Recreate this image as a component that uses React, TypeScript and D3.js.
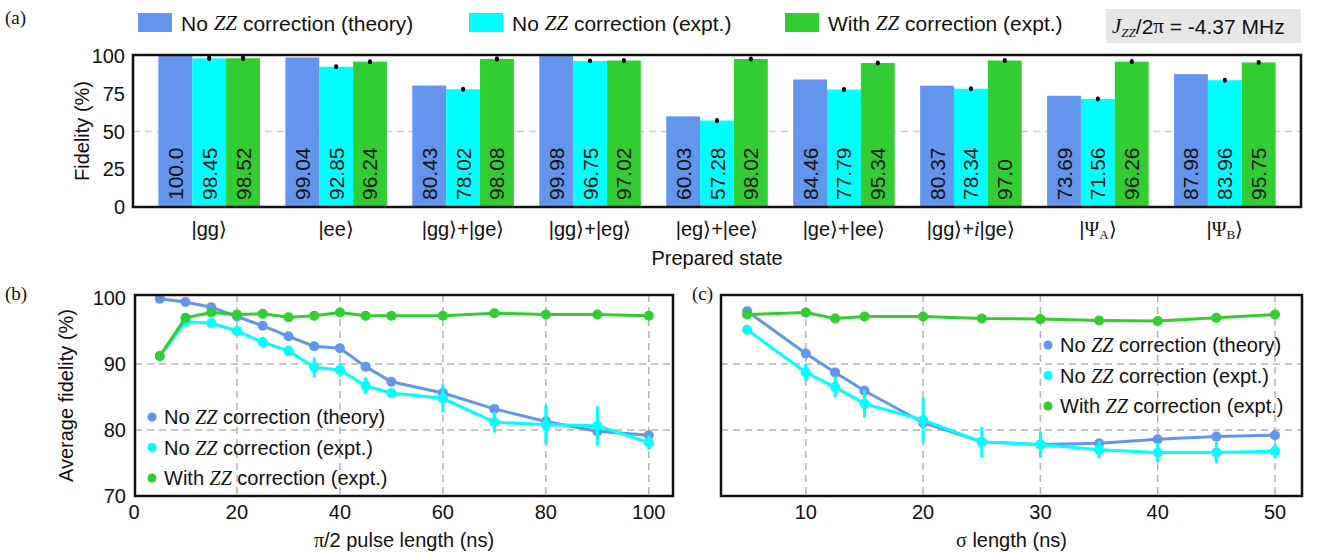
import * as d3 from "d3";

const states = ["gg", "ee", "gg+ge", "gg+eg", "eg+ee", "ge+ee", "gg+ige", "PsiA", "PsiB"];
const theoryLabels = ["100.0", "99.04", "80.43", "99.98", "60.03", "84.46", "80.37", "73.69", "87.98"];
const exptLabels = ["98.45", "92.85", "78.02", "96.75", "57.28", "77.79", "78.34", "71.56", "83.96"];
const corrLabels = ["98.52", "96.24", "98.08", "97.02", "98.02", "95.34", "97.0", "96.26", "95.75"];
const exptErrA = [0.5, 0.3, 0.3, 0.3, 0.3, 0.4, 0.3, 0.3, 0.3];
const corrErrA = [0.5, 0.3, 0.4, 0.3, 0.3, 0.3, 0.3, 0.4, 0.3];
const barTicks = [0, 25, 50, 75, 100];

// panel (b): pi/2 pulse length
const pulseLen = [5, 10, 15, 20, 25, 30, 35, 40, 45, 50, 60, 70, 80, 90, 100];
const pulseTheory = [99.9, 99.4, 98.6, 97.2, 95.8, 94.2, 92.7, 92.4, 89.6, 87.3, 85.6, 83.2, 81.3, 79.8, 79.2];
const pulseExpt = [91.2, 96.4, 96.2, 95.0, 93.3, 92.0, 89.5, 89.1, 86.7, 85.6, 84.8, 81.2, 80.8, 80.65, 78.1];
const pulseExptErr = [0, 0.3, 0.3, 0.4, 0.8, 0.8, 1.5, 1.0, 1.25, 0.3, 2.1, 1.6, 2.95, 2.95, 1.1];
const pulseCorr = [91.2, 97.0, 97.8, 97.5, 97.6, 97.1, 97.3, 97.8, 97.3, 97.3, 97.3, 97.7, 97.5, 97.5, 97.3];
const pulseTicks = [0, 20, 40, 60, 80, 100];

// panel (c): sigma length
const sigmaLen = [5, 10, 12.5, 15, 20, 25, 30, 35, 40, 45, 50];
const sigmaTheory = [98.0, 91.6, 88.7, 85.95, 81.1, 78.2, 77.8, 78.0, 78.6, 79.0, 79.2];
const sigmaExpt = [95.2, 88.7, 86.5, 84.0, 81.5, 78.2, 77.8, 77.0, 76.6, 76.6, 76.8];
const sigmaExptErr = [0.2, 1.26, 1.6, 2.1, 3.4, 2.3, 1.9, 1.3, 1.5, 1.6, 1.1];
const sigmaCorr = [97.5, 97.8, 96.9, 97.2, 97.2, 96.9, 96.8, 96.6, 96.5, 97.0, 97.5];
const sigmaCorrErr = [0, 0, 0.7, 0, 0, 0, 0, 0, 0, 0, 0];
const sigmaTicks = [10, 20, 30, 40, 50];
const fidTicks = [70, 80, 90, 100];

const BLUE = "#6495ED";
const CYAN = "#00FFFF";
const GREEN = "#32CD32";
const SANS = "'Liberation Sans', Arial, sans-serif";
const SERIF = "'Liberation Serif', 'Times New Roman', serif";
const GRID = "#b4b4b4";

const ZZ = () => (
  <tspan fontFamily={SERIF} fontStyle="italic">ZZ</tspan>
);

const Ket = ({ s }: { s: string }) => {
  if (s === "PsiA" || s === "PsiB")
    return (
      <>
        |<tspan fontFamily={SERIF}>Ψ</tspan>
        <tspan fontFamily={SERIF} fontSize={13} dy={5}>{s.slice(3)}</tspan>
        <tspan dy={-5}>⟩</tspan>
      </>
    );
  const parts = s.split("+");
  return (
    <>
      {parts.map((p, i) => (
        <tspan key={i}>
          {i > 0 ? "+" : ""}
          {p.startsWith("i") ? <tspan fontFamily={SERIF} fontStyle="italic">i</tspan> : null}
          {"|" + p.replace(/^i/, "") + "⟩"}
        </tspan>
      ))}
    </>
  );
};

const series = [
  { key: "theory", color: BLUE, label: "(theory)", pre: "No " },
  { key: "expt", color: CYAN, label: "(expt.)", pre: "No " },
  { key: "corr", color: GREEN, label: "(expt.)", pre: "With " },
];

function LinePanel(props: {
  xs: number[];
  x: d3.ScaleLinear<number, number>;
  y: d3.ScaleLinear<number, number>;
  data: number[][];
  errs: (number[] | null)[];
  xTicks: number[];
  frame: [number, number, number, number];
  showY: boolean;
  legendAt: [number, number];
  xTitle: React.ReactNode;
}) {
  const { xs, x, y, data, errs, xTicks, frame, showY, legendAt } = props;
  const [fl, ft, fr, fb] = frame;
  const colors = [BLUE, CYAN, GREEN];
  return (
    <g>
      {xTicks.filter((t) => t > 0).map((t) => (
        <line key={"gx" + t} x1={x(t)} x2={x(t)} y1={ft} y2={fb} stroke={GRID} strokeWidth={1.5} strokeDasharray="7,5" />
      ))}
      {[80, 90].map((t) => (
        <line key={"gy" + t} x1={fl} x2={fr} y1={y(t)} y2={y(t)} stroke={GRID} strokeWidth={1.5} strokeDasharray="7,5" />
      ))}
      {data.map((vals, si) => {
        const line = d3.line<number>().x((_, i) => x(xs[i])).y((v) => y(v));
        const e = errs[si];
        return (
          <g key={si}>
            <path d={line(vals) || ""} fill="none" stroke={colors[si]} strokeWidth={3} />
            {e && vals.map((v, i) =>
              e[i] > 0 ? (
                <line key={"e" + i} x1={x(xs[i])} x2={x(xs[i])} y1={y(v - e[i])} y2={y(v + e[i])} stroke={colors[si]} strokeWidth={3} />
              ) : null
            )}
            {vals.map((v, i) => (
              <circle key={i} cx={x(xs[i])} cy={y(v)} r={5} fill={colors[si]} />
            ))}
          </g>
        );
      })}
      <rect x={fl} y={ft} width={fr - fl} height={fb - ft} fill="none" stroke="#111" strokeWidth={2.5} />
      {showY && fidTicks.map((t) => (
        <text key={"ty" + t} x={fl - 9} y={y(t)} textAnchor="end" dominantBaseline="central" fontSize={20}>{t}</text>
      ))}
      {xTicks.map((t) => (
        <text key={"tx" + t} x={x(t)} y={fb + 23} textAnchor="middle" fontSize={20}>{t}</text>
      ))}
      <text x={(fl + fr) / 2} y={fb + 51} textAnchor="middle" fontSize={20}>{props.xTitle}</text>
      {series.map((s, i) => (
        <g key={s.key} transform={`translate(${legendAt[0]},${legendAt[1] + i * 30.5})`}>
          <circle cx={0} cy={0} r={4.5} fill={s.color} />
          <text x={12} y={0} dominantBaseline="central" fontSize={20}>
            {s.pre}<ZZ /> correction {s.label}
          </text>
        </g>
      ))}
    </g>
  );
}

export default function App() {
  // panel (a)
  const xA = d3.scaleBand<string>().domain(states).range([133, 1301]).paddingInner(0.2).paddingOuter(0.2);
  const xSub = d3.scaleBand<string>().domain(series.map((s) => s.key)).range([0, xA.bandwidth()]);
  const yA = d3.scaleLinear().domain([0, 100]).range([207, 56]);
  const barSets = [theoryLabels, exptLabels, corrLabels];
  const barErrs = [null, exptErrA, corrErrA];

  // panels (b), (c)
  const yB = d3.scaleLinear().domain([70, 100]).range([496, 298]);
  const xB = d3.scaleLinear().domain([0, 104.7]).range([134, 673]);
  const xC = d3.scaleLinear().domain([2.77, 52.3]).range([721, 1302]);

  return (
    <svg width={1317} height={555} style={{ position: "absolute", left: 0, top: 0, background: "#fff" }} fontFamily={SANS} fill="#111">
      {/* panel labels */}
      <text x={5} y={24} fontFamily={SERIF} fontSize={19}>(a)</text>
      <text x={5} y={300} fontFamily={SERIF} fontSize={19}>(b)</text>
      <text x={692} y={300} fontFamily={SERIF} fontSize={19}>(c)</text>

      {/* legend (a) */}
      {series.map((s, i) => {
        const lx = [138, 469, 785][i];
        return (
          <g key={s.key}>
            <rect x={lx} y={13} width={34} height={19} fill={s.color} />
            <text x={lx + 43} y={23} dominantBaseline="central" fontSize={21}>
              {s.pre}<ZZ /> correction {s.label}
            </text>
          </g>
        );
      })}
      <rect x={1106} y={9} width={195} height={34} fill="#e6e6e6" />
      <text x={1112} y={26} dominantBaseline="central" fontSize={21}>
        <tspan fontFamily={SERIF} fontStyle="italic">J</tspan>
        <tspan fontFamily={SERIF} fontStyle="italic" fontSize={13} dy={6}>ZZ</tspan>
        <tspan dy={-6}>/2</tspan>
        <tspan fontFamily={SERIF}>π</tspan> = -4.37 MHz
      </text>

      {/* panel (a) bars */}
      <line x1={133} x2={1301} y1={yA(50)} y2={yA(50)} stroke="#cfcfcf" strokeWidth={1.5} strokeDasharray="7,5" />
      {states.map((st, gi) => (
        <g key={st} transform={`translate(${xA(st)},0)`}>
          {series.map((s, si) => {
            const v = +barSets[si][gi];
            const bx = xSub(s.key) || 0;
            const bw = xSub.bandwidth();
            const e = barErrs[si];
            return (
              <g key={s.key}>
                <rect x={bx} y={yA(v)} width={bw} height={yA(0) - yA(v)} fill={s.color} />
                {e && (
                  <line x1={bx + bw / 2} x2={bx + bw / 2} y1={yA(v - e[gi]) } y2={yA(v + e[gi])} stroke="#000" strokeWidth={4} strokeLinecap="round" />
                )}
                <text transform={`translate(${bx + bw / 2},${yA(0) - 7}) rotate(-90)`} dominantBaseline="central" fontSize={21}>
                  {barSets[si][gi]}
                </text>
              </g>
            );
          })}
        </g>
      ))}
      <rect x={133} y={55} width={1301 - 133} height={207 - 55} fill="none" stroke="#111" strokeWidth={2.5} />
      {barTicks.map((t) => (
        <text key={t} x={125} y={yA(t)} textAnchor="end" dominantBaseline="central" fontSize={20}>{t}</text>
      ))}
      <text transform={`translate(82,${(55 + 207) / 2}) rotate(-90)`} textAnchor="middle" dominantBaseline="central" fontSize={20}>Fidelity (%)</text>
      {states.map((st) => (
        <text key={st} x={(xA(st) || 0) + xA.bandwidth() / 2} y={229} textAnchor="middle" dominantBaseline="central" fontSize={20}>
          <Ket s={st} />
        </text>
      ))}
      <text x={717} y={258} textAnchor="middle" dominantBaseline="central" fontSize={20}>Prepared state</text>

      {/* panel (b) */}
      <text transform={`translate(66,${(295 + 496) / 2}) rotate(-90)`} textAnchor="middle" dominantBaseline="central" fontSize={20}>Average fidelity (%)</text>
      <LinePanel
        xs={pulseLen}
        x={xB}
        y={yB}
        data={[pulseTheory, pulseExpt, pulseCorr]}
        errs={[null, pulseExptErr, null]}
        xTicks={pulseTicks}
        frame={[135, 295, 673, 496]}
        showY={true}
        legendAt={[152, 417]}
        xTitle={<><tspan fontFamily={SERIF}>π</tspan>/2 pulse length (ns)</>}
      />

      {/* panel (c) */}
      <LinePanel
        xs={sigmaLen}
        x={xC}
        y={yB}
        data={[sigmaTheory, sigmaExpt, sigmaCorr]}
        errs={[null, sigmaExptErr, sigmaCorrErr]}
        xTicks={sigmaTicks}
        frame={[721, 295, 1302, 496]}
        showY={false}
        legendAt={[1048, 345]}
        xTitle={<><tspan fontFamily={SERIF}>σ</tspan> length (ns)</>}
      />
    </svg>
  );
}
